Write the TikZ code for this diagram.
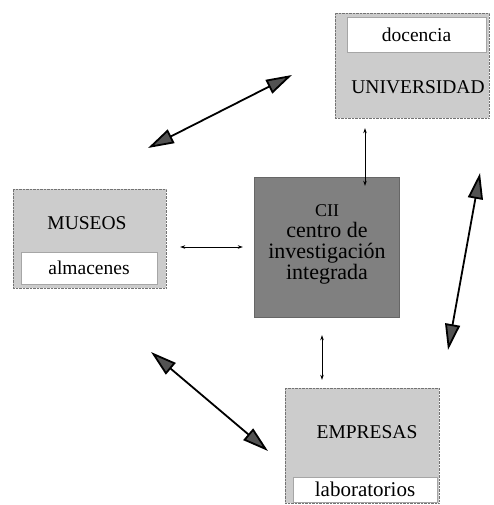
\documentclass[tikz,border=0pt]{standalone}
\usepackage{fontspec}
\setmainfont{Liberation Serif}
\usetikzlibrary{arrows.meta}
\begin{document}
\begin{tikzpicture}[x=1pt, y=-1pt,
        caja/.style={draw=black!55, densely dotted, fill=black!20, inner sep=0pt},
        centro/.style={draw=black!60, fill=black!50, inner sep=0pt, align=center,
            font=\fontsize{22}{21}\selectfont},
        hueco/.style={draw=black!35, fill=white, inner sep=0pt, font=\fontsize{19.5}{20}\selectfont},
        rotulo/.style={font=\fontsize{19.5}{20}\selectfont},
        fino/.style={{Stealth[length=5pt,width=3.5pt]}-{Stealth[length=5pt,width=3.5pt]}, line width=0.7pt},
        grueso/.style={{Triangle[length=26pt,width=15pt,fill=black!68]}-{Triangle[length=26pt,width=15pt,fill=black!68]}, line width=1.8pt}]
    \useasboundingbox (0, 0) rectangle (493, 505);
    % the three outer blocks
    \node [caja, minimum width=154pt, minimum height=105pt] (universidad) at (412, 65.5) {};
    \node [hueco, minimum width=139pt, minimum height=35pt] (docencia) at (416.5, 34.5) {docencia};
    \node [rotulo] (univ) at (418, 87) {UNIVERSIDAD};
    \node [caja, minimum width=153pt, minimum height=99pt] (museos) at (89.5, 238.5) {};
    \node [hueco, minimum width=136pt, minimum height=32pt] (almacenes) at (89, 268) {almacenes};
    \node [rotulo] (mus) at (87, 223) {MUSEOS};
    \node [caja, minimum width=154pt, minimum height=115pt] (empresas) at (362, 445.5) {};
    \node [hueco, minimum width=144pt, minimum height=25pt, font=\fontsize{21}{20}\selectfont] (laboratorios) at (365, 489.5) {laboratorios};
    \node [rotulo] (emp) at (367, 432) {EMPRESAS};
    % the centre
    \node [centro, minimum width=145pt, minimum height=140pt] (cii) at (326.5, 247) {};
    \node [centro, draw=none, fill=none, anchor=north] (ciitext) at (327, 204)
        {{\fontsize{18}{21}\selectfont CII}\\centro de\\investigación\\integrada};
    % thin links
    \draw [fino] ([xshift=14pt]museos.east |- cii.west) -- ([xshift=-11pt]cii.west);
    \draw [fino] ([xshift=38.5pt, yshift=-9pt]cii.north) -- ([xshift=-47pt, yshift=-10pt]universidad.south);
    \draw [fino] ([xshift=-4.5pt, yshift=-18pt]cii.south) -- ([xshift=-40pt, yshift=8pt]empresas.north);
    % thick links
    \coordinate (mu1) at (148, 148);
    \coordinate (un1) at (292, 75);
    \coordinate (mu2) at (151, 352);
    \coordinate (em1) at (268, 451);
    \coordinate (un2) at (480, 173);
    \coordinate (em2) at (448, 350);
    \foreach \a/\b in {mu1/un1, mu2/em1, un2/em2}
        \draw [grueso] (\a) -- (\b);
\end{tikzpicture}
\end{document}
